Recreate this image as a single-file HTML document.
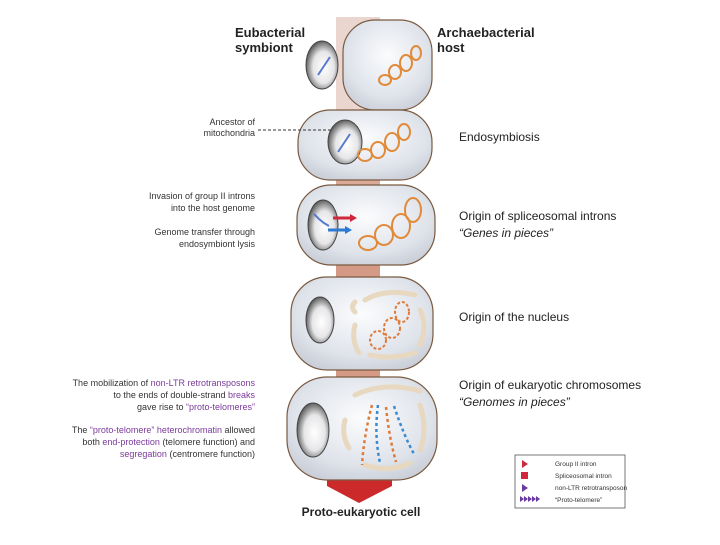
<!DOCTYPE html><html><head><style>
body{margin:0;width:720px;height:540px;background:#fff;overflow:hidden;font-family:"Liberation Sans",sans-serif}
</style></head><body>
<svg width="720" height="540" viewBox="0 0 720 540" xmlns="http://www.w3.org/2000/svg" font-family="Liberation Sans, sans-serif">
<defs>
<radialGradient id="cg" cx="50%" cy="40%" r="65%"><stop offset="0" stop-color="#fbfcfd"/><stop offset="0.7" stop-color="#dfe3ea"/><stop offset="1" stop-color="#c9ced8"/></radialGradient>
<radialGradient id="sg" cx="55%" cy="55%" r="60%"><stop offset="0" stop-color="#ffffff"/><stop offset="0.55" stop-color="#e6e6e8"/><stop offset="1" stop-color="#444"/></radialGradient>
</defs>
<rect x="336" y="17" width="44" height="470" fill="#ead6cf"/>
<rect x="336" y="262" width="44" height="18" fill="#d49a86"/>
<rect x="336" y="366" width="44" height="14" fill="#d49a86"/>
<rect x="336" y="178" width="44" height="10" fill="#dcaa98"/>
<polygon points="327,478 392,478 392,486 359,503 327,486" fill="#cc2a2a"/>
<!-- cell1 -->
<rect x="343" y="20" width="89" height="90" rx="32" fill="url(#cg)" stroke="#7a5a40" stroke-width="1.2"/>
<ellipse cx="322" cy="65" rx="16" ry="24" fill="url(#sg)" stroke="#444"/>
<g fill="none" stroke="#e08a3a" stroke-width="2"><ellipse cx="385" cy="80" rx="6" ry="5"/><ellipse cx="395" cy="72" rx="6" ry="7"/><ellipse cx="406" cy="63" rx="6" ry="8"/><ellipse cx="416" cy="53" rx="5" ry="7"/></g>
<path d="M318 75 l4 -6 4 -6 4 -6" stroke="#5a7ad0" stroke-width="2" fill="none"/>
<!-- cell2 -->
<rect x="298" y="110" width="134" height="70" rx="32" fill="url(#cg)" stroke="#7a5a40" stroke-width="1.2"/>
<ellipse cx="345" cy="142" rx="17" ry="22" fill="url(#sg)" stroke="#444"/>
<path d="M338 152 l4 -6 4 -6 4 -6" stroke="#5a7ad0" stroke-width="2" fill="none"/>
<g fill="none" stroke="#e08a3a" stroke-width="2"><ellipse cx="365" cy="155" rx="7" ry="6"/><ellipse cx="378" cy="150" rx="7" ry="8"/><ellipse cx="392" cy="142" rx="7" ry="9"/><ellipse cx="404" cy="132" rx="6" ry="8"/></g>
<line x1="258" y1="130" x2="332" y2="130" stroke="#333" stroke-dasharray="3,2"/>
<!-- cell3 -->
<rect x="297" y="185" width="138" height="80" rx="34" fill="url(#cg)" stroke="#7a5a40" stroke-width="1.2"/>
<ellipse cx="323" cy="225" rx="15" ry="25" fill="url(#sg)" stroke="#444"/>
<path d="M314 214 l5 5 5 4 5 3" stroke="#5a7ad0" stroke-width="2" fill="none"/>
<path d="M333 218 h18" stroke="#d0283a" stroke-width="3"/><polygon points="350,214 357,218 350,222" fill="#d0283a"/>
<path d="M328 230 h18" stroke="#2d7ad0" stroke-width="3"/><polygon points="345,226 352,230 345,234" fill="#2d7ad0"/>
<g fill="none" stroke="#e08a3a" stroke-width="2"><ellipse cx="368" cy="243" rx="9" ry="7"/><ellipse cx="384" cy="235" rx="9" ry="10"/><ellipse cx="401" cy="226" rx="9" ry="12"/><ellipse cx="413" cy="210" rx="8" ry="12"/></g>
<!-- cell4 -->
<rect x="291" y="277" width="142" height="93" rx="36" fill="url(#cg)" stroke="#7a5a40" stroke-width="1.2"/>
<ellipse cx="320" cy="320" rx="14" ry="23" fill="url(#sg)" stroke="#444"/>
<g fill="none" stroke="#e8d8c0" stroke-width="5" stroke-linecap="round"><path d="M365 300 q20 -12 50 -5"/><path d="M355 302 q-5 5 0 10"/><path d="M420 310 q8 15 0 35"/><path d="M370 355 q20 5 45 -2"/><path d="M355 325 q-4 15 4 28"/></g>
<g fill="none" stroke="#e07a3a" stroke-width="2" stroke-dasharray="3,2"><ellipse cx="378" cy="340" rx="8" ry="9"/><ellipse cx="392" cy="328" rx="8" ry="10"/><ellipse cx="402" cy="312" rx="7" ry="10"/></g>
<!-- cell5 -->
<rect x="287" y="377" width="150" height="103" rx="40" fill="url(#cg)" stroke="#7a5a40" stroke-width="1.2"/>
<ellipse cx="313" cy="430" rx="16" ry="27" fill="url(#sg)" stroke="#444"/>
<g fill="none" stroke="#e8d8c0" stroke-width="5" stroke-linecap="round"><path d="M355 395 q30 -14 65 -4"/><path d="M420 405 q8 25 0 45"/><path d="M365 465 q25 8 45 -2"/><path d="M345 420 q-4 15 4 28"/></g>
<g fill="none" stroke-width="2.5" stroke-dasharray="3,3"><path d="M372 405 q-8 30 -10 60" stroke="#e07a3a"/><path d="M378 405 q-4 30 2 58" stroke="#3a8ad0"/><path d="M386 407 q3 30 10 55" stroke="#e07a3a"/><path d="M394 406 q10 30 20 48" stroke="#3a8ad0"/></g>
<g font-weight="bold" font-size="13" fill="#222"><text x="235" y="37">Eubacterial</text><text x="235" y="52">symbiont</text><text x="437" y="37">Archaebacterial</text><text x="437" y="52">host</text></g>
<text x="361" y="516" font-weight="bold" font-size="12" text-anchor="middle" fill="#222">Proto-eukaryotic cell</text>
<g font-size="12" fill="#222"><text x="459" y="141">Endosymbiosis</text><text x="459" y="220">Origin of spliceosomal introns</text><text x="459" y="237" font-style="italic">“Genes in pieces”</text><text x="459" y="321">Origin of the nucleus</text><text x="459" y="389">Origin of eukaryotic chromosomes</text><text x="459" y="406" font-style="italic">“Genomes in pieces”</text></g>
<g font-size="9" fill="#333" text-anchor="end"><text x="255" y="125">Ancestor of</text><text x="255" y="136">mitochondria</text><text x="255" y="199">Invasion of group II introns</text><text x="255" y="211">into the host genome</text><text x="255" y="235">Genome transfer through</text><text x="255" y="247">endosymbiont lysis</text>
<text x="255" y="386">The mobilization of <tspan fill="#7a3a9a">non-LTR retrotransposons</tspan></text><text x="255" y="398">to the ends of double-strand <tspan fill="#7a3a9a">breaks</tspan></text><text x="255" y="410">gave rise to <tspan fill="#7a3a9a">“proto-telomeres”</tspan></text>
<text x="255" y="433">The <tspan fill="#7a3a9a">“proto-telomere” heterochromatin</tspan> allowed</text><text x="255" y="445">both <tspan fill="#7a3a9a">end-protection</tspan> (telomere function) and</text><text x="255" y="457"><tspan fill="#7a3a9a">segregation</tspan> (centromere function)</text></g>
<rect x="515" y="455" width="110" height="53" fill="#fff" stroke="#555" stroke-width="0.8"/>
<polygon points="522,460 528,464 522,468" fill="#d0283a"/>
<rect x="521" y="472" width="7" height="7" fill="#d0283a"/>
<polygon points="522,484 528,488 522,492" fill="#6a3aa0"/>
<g fill="#6a3aa0"><polygon points="520,496 524,499 520,502"/><polygon points="524,496 528,499 524,502"/><polygon points="528,496 532,499 528,502"/><polygon points="532,496 536,499 532,502"/><polygon points="536,496 540,499 536,502"/></g>
<g font-size="6.5" fill="#333"><text x="555" y="466">Group II intron</text><text x="555" y="478">Spliceosomal intron</text><text x="555" y="490">non-LTR retrotransposon</text><text x="555" y="502">“Proto-telomere”</text></g>
</svg></body></html>
